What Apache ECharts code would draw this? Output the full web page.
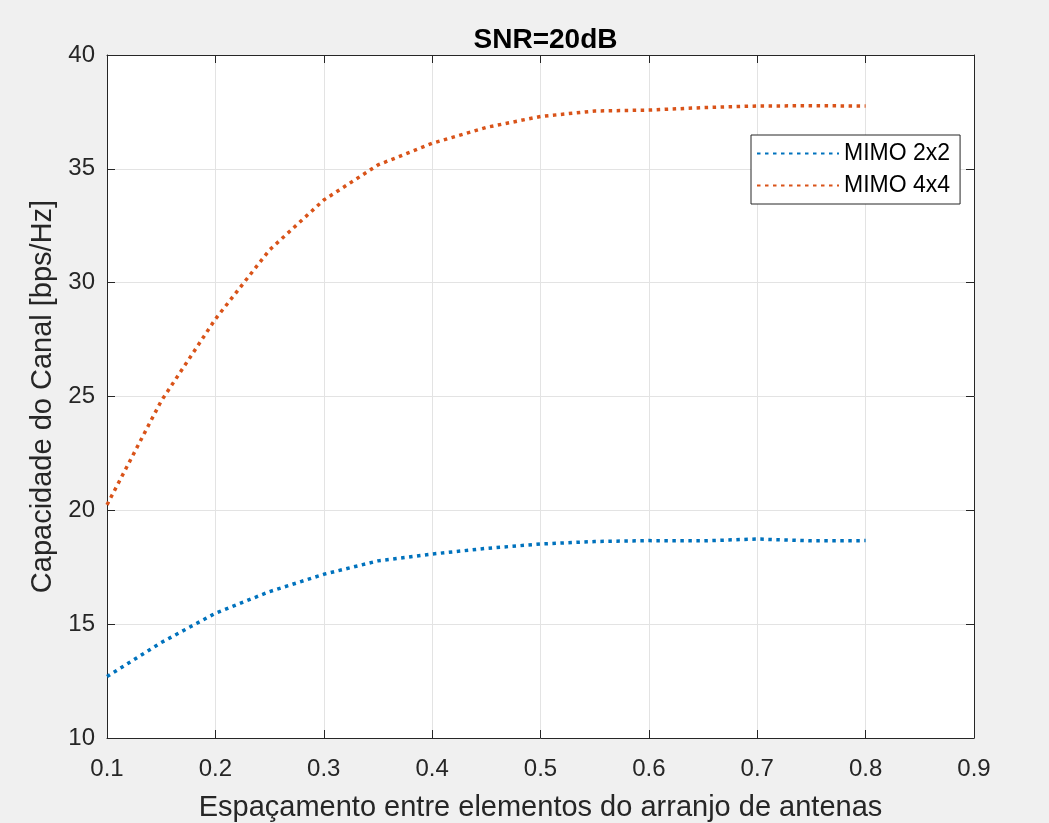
<!DOCTYPE html>
<html>
<head>
<meta charset="utf-8">
<script src="https://cdn.jsdelivr.net/npm/echarts@6/dist/echarts.min.js"></script>
<style>
html,body{margin:0;padding:0;background:#f0f0f0;}
#main{width:1049px;height:823px;}
</style>
</head>
<body>
<div id="main"></div>
<script>
const xValues = [0.1,0.15,0.2,0.25,0.3,0.35,0.4,0.45,0.5,0.55,0.6,0.65,0.7,0.75,0.8];
const mimo2x2 = [12.70,14.19,15.48,16.43,17.19,17.78,18.08,18.33,18.52,18.63,18.67,18.66,18.74,18.66,18.67];
const mimo4x4 = [20.24,24.8,28.4,31.44,33.63,35.17,36.12,36.82,37.30,37.54,37.58,37.69,37.76,37.77,37.76];
const seriesNames = ['MIMO 2x2','MIMO 4x4'];
const xTicks = {min:0.1, max:0.9, interval:0.1};
const yTicks = {min:10, max:40, interval:5};
const titleText = 'SNR=20dB';
const xLabel = 'Espaçamento entre elementos do arranjo de antenas';
const yLabel = 'Capacidade do Canal [bps/Hz]';

const pairs = arr => xValues.map((x,i)=>[x,arr[i]]);
const FONT = 'Liberation Sans, Arial, Helvetica, sans-serif';
const AX = '#262626';
const chart = echarts.init(document.getElementById('main'));
const tickInside = {show:true, inside:true, length:8, lineStyle:{color:AX, width:1}};
const commonAxis = {
  axisLine:{show:true, onZero:false, lineStyle:{color:AX, width:1}},
  axisTick: tickInside,
};
chart.setOption({
  backgroundColor:'#f0f0f0',
  animation:false,
  title:{text:titleText, left:540.5, top:21, textAlign:'center',
    textStyle:{fontFamily:FONT, fontSize:28, fontWeight:'bold', color:'#000'}},
  grid:{left:107, top:55, right:75, bottom:85, show:true, backgroundColor:'#fff', borderWidth:0,
    containLabel:false, outerBoundsMode:'none'},
  legend:{
    data:seriesNames, orient:'vertical', left:751, top:135,
    backgroundColor:'#fff', borderColor:AX, borderWidth:1,
    padding:[7,10,7,5], itemWidth:82, itemHeight:14, itemGap:9,
    itemStyle:{opacity:0},
    textStyle:{fontFamily:FONT, fontSize:23, color:'#000'}
  },
  xAxis:[
    Object.assign({type:'value', min:xTicks.min, max:xTicks.max, interval:xTicks.interval, position:'bottom',
      name:xLabel, nameLocation:'middle', nameGap:55,
      nameTextStyle:{fontFamily:FONT, fontSize:29, color:AX},
      axisLabel:{fontFamily:FONT, fontSize:24, color:AX, margin:19, formatter:v=>v.toFixed(1)},
      splitLine:{show:true, lineStyle:{color:'#e3e3e3', width:1}}}, commonAxis),
    Object.assign({type:'value', min:xTicks.min, max:xTicks.max, interval:xTicks.interval, position:'top',
      axisLabel:{show:false}, splitLine:{show:false}}, commonAxis)
  ],
  yAxis:[
    Object.assign({type:'value', min:yTicks.min, max:yTicks.max, interval:yTicks.interval, position:'left',
      name:yLabel, nameLocation:'middle', nameGap:50,
      nameTextStyle:{fontFamily:FONT, fontSize:29, color:AX},
      axisLabel:{fontFamily:FONT, fontSize:24, color:AX, margin:12},
      splitLine:{show:true, lineStyle:{color:'#e3e3e3', width:1}}}, commonAxis),
    Object.assign({type:'value', min:yTicks.min, max:yTicks.max, interval:yTicks.interval, position:'right',
      axisLabel:{show:false}, splitLine:{show:false}}, commonAxis)
  ],
  series:[
    {name:seriesNames[0], type:'line', data:pairs(mimo2x2), symbol:'none', showSymbol:false,
      itemStyle:{color:'#0072BD'},
      lineStyle:{color:'#0072BD', width:3.5, type:[3.5,4.5], cap:'butt'}},
    {name:seriesNames[1], type:'line', data:pairs(mimo4x4), symbol:'none', showSymbol:false,
      itemStyle:{color:'#D95319'},
      lineStyle:{color:'#D95319', width:3.5, type:[3.5,4.5], cap:'butt'}}
  ]
});
</script>
</body>
</html>
